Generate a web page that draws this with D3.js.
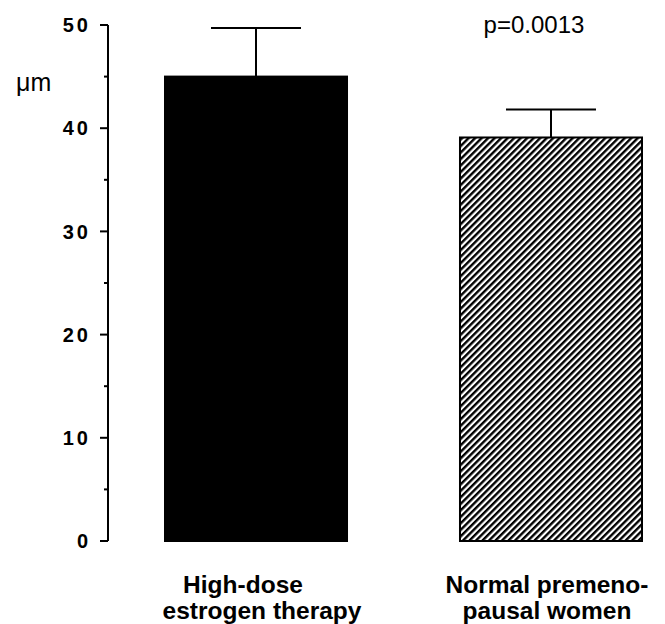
<!DOCTYPE html>
<html>
<head>
<meta charset="utf-8">
<script src="https://cdn.jsdelivr.net/npm/d3@7"></script>
<style>
	body { margin: 0; background: #fff; }
	text { font-family: "Liberation Sans", Arial, Helvetica, sans-serif; fill: #000; }
</style>
</head>
<body>
<div id="chart"></div>
<script>

const groups = ['High-dose estrogen therapy', 'Normal premeno-pausal women'],
	groupLines = [['High-dose', 'estrogen therapy'], ['Normal premeno-', 'pausal women']],
	means = [45, 39.1],
	errors = [4.7, 2.7],
	fills = ['solid', 'hatch'],
	majorTicks = [0, 10, 20, 30, 40, 50],
	minorTicks = [5, 15, 25, 35, 45],
	pValue = 'p=0.0013',
	unitLabel = 'μm';

const W = 665,
	H = 624;

let svg = d3.select('#chart').append('svg')
	.attr('width', W)
	.attr('height', H);

// diagonal hatch for the second bar
svg.append('defs').append('pattern')
	.attr('id', 'hatch')
	.attr('patternUnits', 'userSpaceOnUse')
	.attr('width', 4.6)
	.attr('height', 4.6)
	.attr('patternTransform', 'rotate(45)')
	.append('rect')
		.attr('x', 0)
		.attr('y', 0)
		.attr('width', 2.4)
		.attr('height', 4.6)
		.attr('fill', '#000');

let y = d3.scaleLinear()
	.domain([0, 50])
	.range([541, 25]);

let x = d3.scaleBand()
	.domain(groups)
	.range([165, 642])
	.paddingInner(0.383)
	.paddingOuter(0);

let axisX = 108;

// axis line
svg.append('line')
	.attr('x1', axisX).attr('x2', axisX)
	.attr('y1', y(0)).attr('y2', y(50))
	.attr('stroke', '#000')
	.attr('stroke-width', 2);

svg.selectAll('.major').data(majorTicks).enter().append('line')
	.attr('x1', axisX - 8).attr('x2', axisX)
	.attr('y1', d => y(d)).attr('y2', d => y(d))
	.attr('stroke', '#000')
	.attr('stroke-width', 2);

svg.selectAll('.minor').data(minorTicks).enter().append('line')
	.attr('x1', axisX - 4).attr('x2', axisX)
	.attr('y1', d => y(d)).attr('y2', d => y(d))
	.attr('stroke', '#000')
	.attr('stroke-width', 2);

// trailing letter-spacing pushes the glyphs left, so anchor a bit further right
svg.selectAll('.tickLabel').data(majorTicks).enter().append('text')
	.attr('x', 91)
	.attr('y', d => y(d))
	.attr('dy', '0.36em')
	.attr('text-anchor', 'end')
	.style('font-size', '20px')
	.style('font-weight', 'bold')
	.style('letter-spacing', '3px')
	.text(d => d);

svg.append('text')
	.attr('x', 16)
	.attr('y', 91)
	.style('font-size', '25px')
	.text(unitLabel);

// bars
svg.selectAll('.bar').data(groups).enter().append('rect')
	.attr('x', d => x(d))
	.attr('y', (d, i) => y(means[i]))
	.attr('width', x.bandwidth())
	.attr('height', (d, i) => y(0) - y(means[i]))
	.attr('fill', (d, i) => fills[i] === 'hatch' ? 'url(#hatch)' : '#000')
	.attr('stroke', '#000')
	.attr('stroke-width', 2);

// error bars (upper only)
let capHalf = 45;
svg.selectAll('.err').data(groups).enter().append('line')
	.attr('x1', d => x(d) + x.bandwidth() / 2)
	.attr('x2', d => x(d) + x.bandwidth() / 2)
	.attr('y1', (d, i) => y(means[i]))
	.attr('y2', (d, i) => y(means[i] + errors[i]))
	.attr('stroke', '#000')
	.attr('stroke-width', 2);

svg.selectAll('.cap').data(groups).enter().append('line')
	.attr('x1', d => x(d) + x.bandwidth() / 2 - capHalf)
	.attr('x2', d => x(d) + x.bandwidth() / 2 + capHalf)
	.attr('y1', (d, i) => y(means[i] + errors[i]))
	.attr('y2', (d, i) => y(means[i] + errors[i]))
	.attr('stroke', '#000')
	.attr('stroke-width', 2);

svg.append('text')
	.attr('x', x(groups[1]) + x.bandwidth() / 2 - 17)
	.attr('y', 33)
	.attr('text-anchor', 'middle')
	.style('font-size', '24px')
	.text(pValue);

// category labels
groupLines.forEach((lines, i) => {
	let cx = x(groups[i]) + x.bandwidth() / 2;
	let t = svg.append('text')
		.attr('text-anchor', 'middle')
		.style('font-size', '24.5px')
		.style('font-weight', 'bold');
	lines.forEach((l, j) => {
		t.append('tspan')
			.attr('x', i === 0 && j === 0 ? cx - 13 : cx + (i === 0 ? 6 : -4))
			.attr('y', 593 + j * 26)
			.text(l);
	});
});

</script>
</body>
</html>
